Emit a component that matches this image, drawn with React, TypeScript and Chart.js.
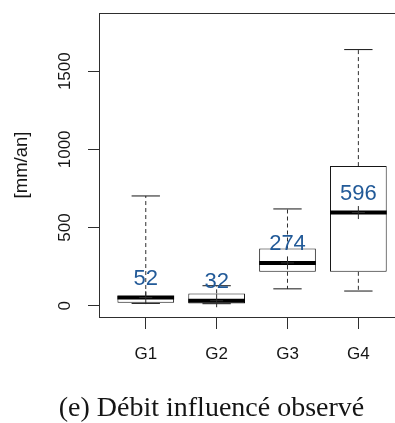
import React, { useEffect, useRef } from 'react';
import { Chart, registerables } from 'chart.js';

Chart.register(...registerables);

// ---- data ----
const categories = ['G1', 'G2', 'G3', 'G4'];
const whiskerLow = [15, 13, 108, 94];
const quartile1 = [19, 15, 217, 217];
const median = [52, 32, 274, 596];
const quartile3 = [62, 79, 366, 893];
const whiskerHigh = [702, 128, 619, 1638];
const yTicks = [0, 500, 1000, 1500];
const yTitle = '[mm/an]';
const caption = '(e) Débit influencé observé';

const BOX_HALF = 0.4;
const CAP_HALF = 0.2;
const SANS = '"Liberation Sans", Arial, Helvetica, sans-serif';
const SERIF = '"Liberation Serif", "Times New Roman", serif';
const AXIS = '#2e2e2e';
const INK = '#151515';
const LABEL_BLUE = '#225a98';

const gap = (x: number) => ({ x, y: null as any });

const whiskerPoints = categories.flatMap((_, i) => [
  { x: i + 1, y: quartile3[i] },
  { x: i + 1, y: whiskerHigh[i] },
  gap(i + 1),
  { x: i + 1, y: quartile1[i] },
  { x: i + 1, y: whiskerLow[i] },
  gap(i + 1),
]);

const capPoints = categories.flatMap((_, i) => [
  { x: i + 1 - CAP_HALF, y: whiskerHigh[i] },
  { x: i + 1 + CAP_HALF, y: whiskerHigh[i] },
  gap(i + 1),
  { x: i + 1 - CAP_HALF, y: whiskerLow[i] },
  { x: i + 1 + CAP_HALF, y: whiskerLow[i] },
  gap(i + 1),
]);

const medianPoints = categories.flatMap((_, i) => [
  { x: i + 1 - BOX_HALF, y: median[i] },
  { x: i + 1 + BOX_HALF, y: median[i] },
  gap(i + 1),
]);

const frameAndLabels = {
  id: 'frameAndLabels',
  afterDatasetsDraw(chart: any) {
    const { ctx, chartArea, scales } = chart;
    ctx.save();
    // top frame line (the right frame lies beyond the cropped edge)
    ctx.strokeStyle = AXIS;
    ctx.lineWidth = 1;
    ctx.beginPath();
    ctx.moveTo(chartArea.left, Math.round(chartArea.top) + 0.5);
    ctx.lineTo(chartArea.right, Math.round(chartArea.top) + 0.5);
    ctx.stroke();
    // median value labels
    ctx.fillStyle = LABEL_BLUE;
    ctx.font = `22px ${SANS}`;
    ctx.textAlign = 'center';
    ctx.textBaseline = 'middle';
    median.forEach((m, i) => {
      const x = scales.x.getPixelForValue(i + 1);
      const y = scales.y.getPixelForValue(m) - 19;
      ctx.fillText(String(m), x, y);
    });
    ctx.restore();
  },
};

export default function App() {
  const ref = useRef<HTMLCanvasElement | null>(null);

  useEffect(() => {
    if (!ref.current) return;
    const chart = new Chart(ref.current, {
      type: 'bar',
      data: {
        datasets: [
          {
            type: 'line',
            data: whiskerPoints as any,
            borderColor: AXIS,
            borderWidth: 1,
            borderDash: [4, 3],
            pointRadius: 0,
            spanGaps: false,
            order: 10,
          } as any,
          {
            type: 'line',
            data: capPoints as any,
            borderColor: INK,
            borderWidth: 1,
            pointRadius: 0,
            spanGaps: false,
            order: 9,
          } as any,
          {
            type: 'bar',
            data: categories.map((_, i) => ({ x: i + 1, y: [quartile1[i], quartile3[i]] })) as any,
            backgroundColor: '#ffffff',
            borderColor: INK,
            borderWidth: 1,
            borderSkipped: false,
            barPercentage: 0.8,
            categoryPercentage: 1,
            order: 5,
          } as any,
          {
            type: 'line',
            data: medianPoints as any,
            borderColor: '#000000',
            borderWidth: 4,
            borderCapStyle: 'butt',
            pointRadius: 0,
            spanGaps: false,
            order: 2,
          } as any,
          {
            type: 'scatter',
            data: categories.map((_, i) => ({ x: i + 1, y: median[i] })) as any,
            pointStyle: 'cross',
            pointRadius: 6.5,
            pointBorderColor: AXIS,
            pointBorderWidth: 1,
            order: 1,
          } as any,
        ],
      },
      options: {
        responsive: false,
        animation: false,
        devicePixelRatio: 1,
        layout: { autoPadding: false, padding: { left: 28, top: 13, right: 0, bottom: 0 } },
        plugins: {
          legend: { display: false },
          tooltip: { enabled: false },
          title: {
            display: true,
            position: 'bottom',
            text: caption,
            color: INK,
            font: { family: SERIF, size: 28, lineHeight: 1, weight: 'normal' },
            padding: { top: 18, bottom: 0 },
          },
        },
        scales: {
          x: {
            type: 'linear',
            min: 0.34,
            max: 4.517,
            offset: false,
            afterBuildTicks: (s: any) => {
              s.ticks = categories.map((_, i) => ({ value: i + 1 }));
            },
            afterFit: (s: any) => {
              s.height = 60;
              s.paddingLeft = 0;
              s.paddingRight = 0;
            },
            border: { display: true, color: AXIS, width: 1 },
            grid: { offset: false, drawOnChartArea: false, drawTicks: true, tickLength: 12, tickColor: AXIS },
            ticks: {
              autoSkip: false,
              maxRotation: 0,
              padding: 15,
              color: INK,
              font: { family: SANS, size: 17 },
              callback: (v: any) => categories[Math.round(Number(v)) - 1] ?? '',
            },
          },
          y: {
            type: 'linear',
            min: -72,
            max: 1872,
            afterBuildTicks: (s: any) => {
              s.ticks = yTicks.map((v) => ({ value: v }));
            },
            afterFit: (s: any) => {
              s.width = 71;
              s.paddingTop = 0;
              s.paddingBottom = 0;
            },
            border: { display: true, color: AXIS, width: 1 },
            grid: { drawOnChartArea: false, drawTicks: true, tickLength: 11, tickColor: AXIS },
            ticks: {
              minRotation: 90,
              maxRotation: 90,
              crossAlign: 'center',
              padding: 4,
              color: INK,
              font: { family: SANS, size: 17 },
              callback: (v: any) => String(v),
            },
            title: {
              display: true,
              text: yTitle,
              color: INK,
              font: { family: SANS, size: 18.5 },
              padding: { top: -17.6, bottom: 0 },
            },
          },
        },
      } as any,
      plugins: [frameAndLabels],
    });
    return () => chart.destroy();
  }, []);

  return (
    <div style={{ position: 'absolute', left: 0, top: 0, width: 395, height: 423, background: '#fff' }}>
      <canvas ref={ref} width={395} height={423} style={{ display: 'block' }} />
    </div>
  );
}
